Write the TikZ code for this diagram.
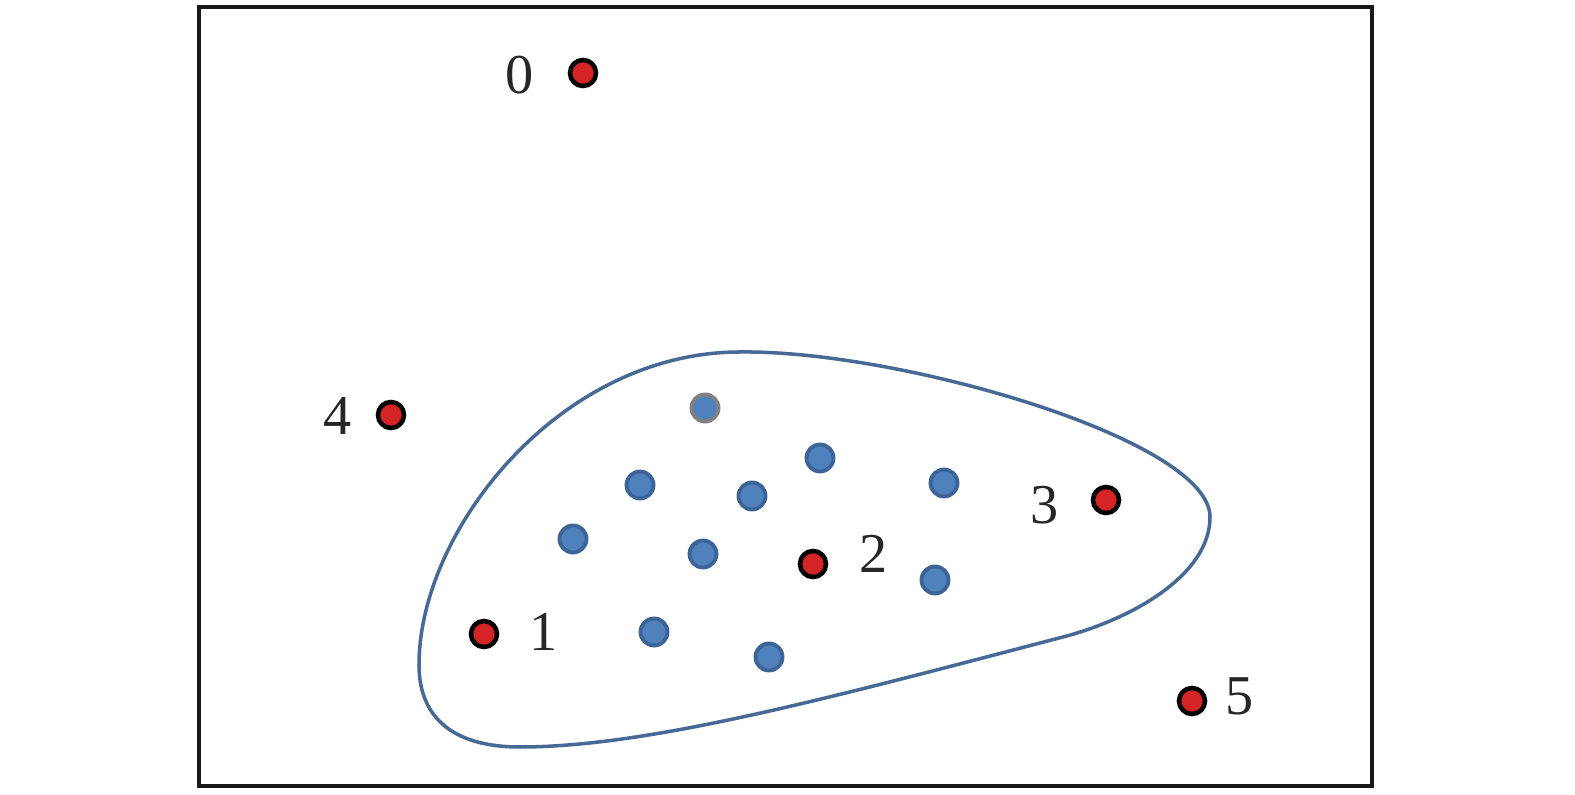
\documentclass[tikz,border=0pt]{standalone}
\usepackage{fontspec}
\setmainfont{Liberation Serif}
\usepackage{tikz}
\definecolor{ptred}{RGB}{212, 36, 38}
\definecolor{ptblue}{RGB}{79, 129, 189}
\definecolor{ptblueedge}{RGB}{60, 100, 150}
\definecolor{blobblue}{RGB}{70, 105, 150}
\tikzset{
    outlier/.style={circle, fill=ptred, draw=black, line width=1.3pt, minimum size=0.26cm, inner sep=0pt},
    inlier/.style={circle, fill=ptblue, draw=ptblueedge, line width=1.1pt, minimum size=0.27cm, inner sep=0pt},
    num/.style={font=\fontsize{16}{16}\selectfont, text=black!85}
}

\begin{document}
\begin{tikzpicture}[x=0.01cm, y=-0.01cm]
    \useasboundingbox (0,0) rectangle (1575,795);

    % Frame
    \draw[line width=1.4pt, black!90] (199,7) rectangle (1372,786);

    % Cluster outline
    \draw[blobblue, line width=1pt] (740,352)
        .. controls (900,350) and (1210,440) .. (1210,517)
        .. controls (1210,575) and (1132,619) .. (1063,637)
        .. controls (833,697) and (650,747) .. (520,747)
        .. controls (450,747) and (419,715) .. (419,665)
        .. controls (419,530) and (560,352) .. cycle;

    % Inlier points
    \node[inlier, draw=gray] (b0) at (705,408) {};
    \node[inlier] (b1) at (820,458) {};
    \node[inlier] (b2) at (640,485) {};
    \node[inlier] (b3) at (752,496) {};
    \node[inlier] (b4) at (944,483) {};
    \node[inlier] (b5) at (573,539) {};
    \node[inlier] (b6) at (703,554) {};
    \node[inlier] (b7) at (935,580) {};
    \node[inlier] (b8) at (654,632) {};
    \node[inlier] (b9) at (769,657) {};

    % Numbered points
    \node[outlier] (p0) at (583,73) {};
    \node[outlier] (p1) at (484,634) {};
    \node[outlier] (p2) at (813,564) {};
    \node[outlier] (p3) at (1106,500) {};
    \node[outlier] (p4) at (391,415) {};
    \node[outlier] (p5) at (1192,701) {};

    % Labels
    \node[num] (l0) at (520,75) {0};
    \node[num] (l1) at (544,632) {1};
    \node[num] (l2) at (874,554) {2};
    \node[num] (l3) at (1045,505) {3};
    \node[num] (l4) at (338,416) {4};
    \node[num] (l5) at (1240,696) {5};
\end{tikzpicture}
\end{document}
